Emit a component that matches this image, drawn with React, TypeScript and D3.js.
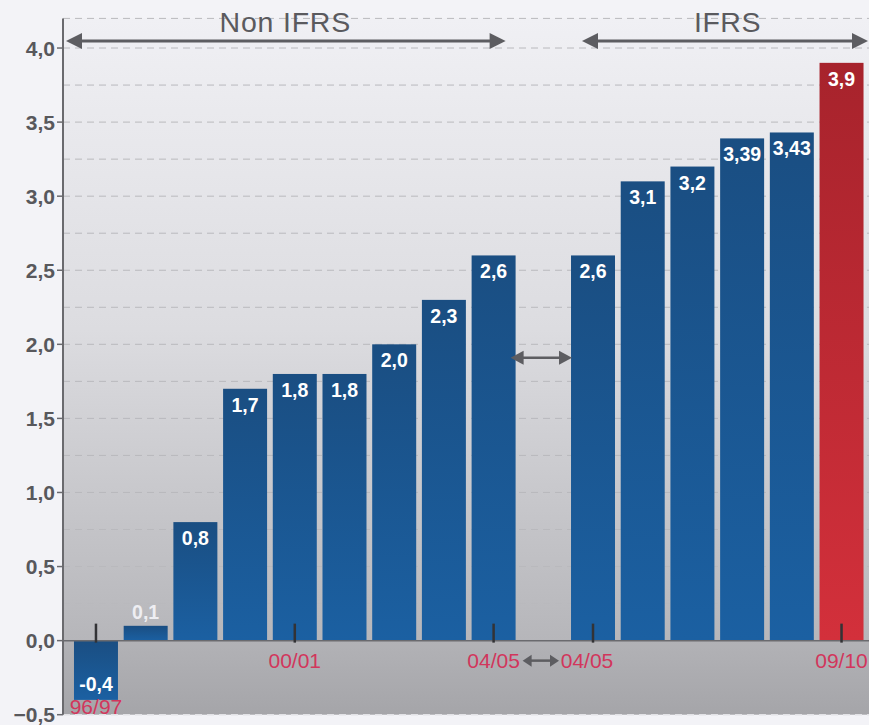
import React from "react";
import * as d3 from "d3";

// bar categories (the empty "gap" slot separates Non IFRS and IFRS)
const categories = [
  "96/97", "97/98", "98/99", "99/00", "00/01", "01/02", "02/03", "03/04", "04/05",
  "gap",
  "04/05 IFRS", "05/06", "06/07", "07/08", "08/09", "09/10",
];
const values: (number | null)[] = [
  -0.4, 0.1, 0.8, 1.7, 1.8, 1.8, 2.0, 2.3, 2.6,
  null,
  2.6, 3.1, 3.2, 3.39, 3.43, 3.9,
];
const valueLabels = [
  "-0,4", "0,1", "0,8", "1,7", "1,8", "1,8", "2,0", "2,3", "2,6",
  "",
  "2,6", "3,1", "3,2", "3,39", "3,43", "3,9",
];
// categories with a tick and a year label on the x axis
const tickCategories = ["96/97", "00/01", "04/05", "04/05 IFRS", "09/10"];
const tickLabels = ["96/97", "00/01", "04/05", "04/05", "09/10"];
const yTicks = [-0.5, 0, 0.5, 1, 1.5, 2, 2.5, 3, 3.5, 4];
const gridValues = [0.25, 0.5, 0.75, 1, 1.25, 1.5, 1.75, 2, 2.25, 2.5, 2.75, 3, 3.25, 3.5, 3.75, 4, 4.2];
const highlight = "09/10";

const W = 869, H = 725;
const axisX = 63;
const font = "'Liberation Sans', Arial, sans-serif";

const fmt = (v: number) => d3.format(".1f")(v).replace(".", ",");

export default function App() {
  const x = d3.scaleBand<string>()
    .domain(categories)
    .range([70, 867.5])
    .paddingInner(0.115)
    .paddingOuter(0.08);
  const y = d3.scaleLinear().domain([-0.5, 4.2]).range([714.7, 18.4]);
  const bw = x.bandwidth();
  const y0 = y(0);

  const arrowHead = (tipX: number, cy: number, dir: number, len: number, half: number) =>
    `M${tipX},${cy} L${tipX - dir * len},${cy - half} L${tipX - dir * len},${cy + half} Z`;

  const dblArrow = (x1: number, x2: number, cy: number, len: number, half: number, sw: number, key: string) => (
    <g key={key} fill="#5d5d61" stroke="#5d5d61">
      <line x1={x1 + len - 1} x2={x2 - len + 1} y1={cy} y2={cy} strokeWidth={sw} />
      <path d={arrowHead(x1, cy, -1, len, half)} stroke="none" />
      <path d={arrowHead(x2, cy, 1, len, half)} stroke="none" />
    </g>
  );

  const leftEnd = (x("04/05") ?? 0) + bw - 10;
  const rightStart = (x("04/05 IFRS") ?? 0) + 11;
  const midY = y(1.91);

  return (
    <svg width={W} height={H} style={{ position: "absolute", left: 0, top: 0, background: "#f3f3f7" }}
      fontFamily={font}>
      <defs>
        <linearGradient id="bgTop" x1="0" y1="0" x2="0" y2="1">
          <stop offset="0%" stopColor="#f0f0f4" />
          <stop offset="50%" stopColor="#dcdce0" />
          <stop offset="100%" stopColor="#b6b6ba" />
        </linearGradient>
        <linearGradient id="bgBottom" x1="0" y1="0" x2="0" y2="1">
          <stop offset="0%" stopColor="#b2b2b6" />
          <stop offset="100%" stopColor="#a5a5a9" />
        </linearGradient>
        <linearGradient id="blueBar" x1="0" y1="0" x2="0" y2="1">
          <stop offset="0%" stopColor="#1a4e82" />
          <stop offset="100%" stopColor="#1b60a2" />
        </linearGradient>
        <linearGradient id="redBar" x1="0" y1="0" x2="0" y2="1">
          <stop offset="0%" stopColor="#a7232c" />
          <stop offset="100%" stopColor="#d3303b" />
        </linearGradient>
      </defs>

      {/* plot background */}
      <rect x={axisX} y={y(4.2)} width={W - axisX} height={y0 - y(4.2)} fill="url(#bgTop)" />
      <rect x={axisX} y={y0} width={W - axisX} height={y(-0.5) - y0} fill="url(#bgBottom)" />

      {/* dashed grid */}
      {gridValues.map(v => (
        <line key={v} x1={axisX} x2={W} y1={y(v)} y2={y(v)}
          stroke="#b9b9bd" strokeWidth={1} strokeDasharray="7,5" />
      ))}
      <line x1={axisX} x2={W} y1={y(-0.5)} y2={y(-0.5)} stroke="#e2e2e6" strokeWidth={1.5} strokeDasharray="7,5" />

      {/* bars */}
      {categories.map((c, i) => {
        const v = values[i];
        if (v === null) return null;
        const top = Math.min(y(v), y0);
        return (
          <rect key={c} x={x(c)} y={top} width={bw} height={Math.abs(y(v) - y0)}
            fill={c === highlight ? "url(#redBar)" : "url(#blueBar)"} />
        );
      })}

      {/* zero line */}
      <line x1={axisX} x2={W} y1={y0} y2={y0} stroke="#6a6a6e" strokeWidth={1.5} />

      {/* value labels */}
      {categories.map((c, i) => {
        const v = values[i];
        if (v === null) return null;
        const cx = (x(c) ?? 0) + bw / 2;
        let ly = y(v) + 23;
        let fill = "#ffffff";
        if (v < 0) ly = y(v) - 9;
        else if (y0 - y(v) < 30) { ly = y(v) - 7; fill = "#eeeef2"; }
        return (
          <text key={c} x={cx} y={ly} textAnchor="middle" fontSize={19.5} fontWeight="bold" fill={fill}>
            {valueLabels[i]}
          </text>
        );
      })}

      {/* y axis */}
      <line x1={axisX} x2={axisX} y1={y(4.2)} y2={y(-0.5)} stroke="#6a6a6e" strokeWidth={2} />
      {yTicks.map(t => (
        <g key={t}>
          <line x1={axisX - 6} x2={axisX} y1={y(t)} y2={y(t)} stroke="#6a6a6e" strokeWidth={1.5} />
          <text x={axisX - 8} y={y(t)} dy="0.36em" textAnchor="end" fontSize={21} fontWeight="bold" fill="#58585c">
            {fmt(t)}
          </text>
        </g>
      ))}

      {/* x ticks and labels */}
      {tickCategories.map((c, i) => {
        const cx = (x(c) ?? 0) + bw / 2;
        const neg = (values[categories.indexOf(c)] ?? 0) < 0;
        let lx = cx;
        if (c === "04/05 IFRS") lx = cx - 6;
        return (
          <g key={c}>
            <line x1={cx} x2={cx} y1={y0 - 17} y2={y0 + 2} stroke="#333336" strokeWidth={2.5} />
            <text x={lx} y={neg ? y(-0.5) - 1 : y0 + 27} textAnchor="middle" fontSize={21} fill="#d2365c">
              {tickLabels[i]}
            </text>
          </g>
        );
      })}
      {dblArrow(
        (x("04/05") ?? 0) + bw / 2 + 29,
        (x("04/05 IFRS") ?? 0) + bw / 2 - 34,
        y0 + 20, 9, 6, 2.5, "xarrow")}

      {/* arrow between the two 04/05 bars */}
      {dblArrow((x("04/05") ?? 0) + bw - 5, (x("04/05 IFRS") ?? 0) + 1, midY, 13, 7, 2.5, "midarrow")}

      {/* header: Non IFRS / IFRS ranges */}
      {dblArrow(axisX + 3, leftEnd, 41, 16, 8, 3, "nonifrs")}
      {dblArrow(rightStart, W - 1, 41, 16, 8, 3, "ifrs")}
      <text x={(axisX + leftEnd) / 2 + 1} y={32} textAnchor="middle" fontSize={28.5} fill="#5a5a5e" letterSpacing={0.8}>
        Non IFRS
      </text>
      <text x={(rightStart + W) / 2 + 2} y={32} textAnchor="middle" fontSize={28.5} fill="#5a5a5e" letterSpacing={0.5}>
        IFRS
      </text>
    </svg>
  );
}
